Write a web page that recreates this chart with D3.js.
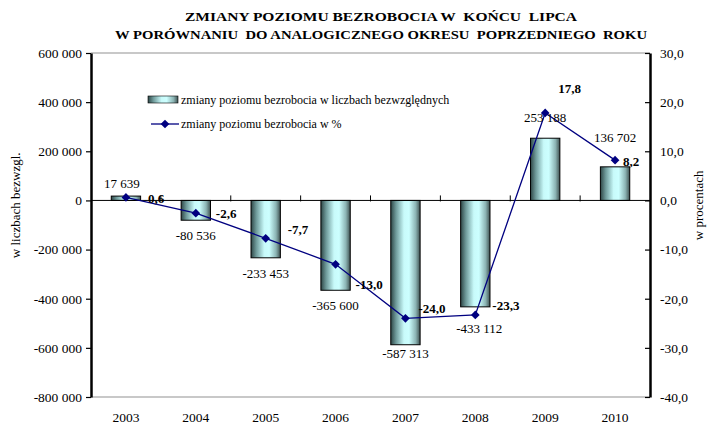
<!DOCTYPE html>
<html>
<head>
<meta charset="utf-8">
<script src="https://cdn.jsdelivr.net/npm/d3@7"></script>
<style>
  body { margin: 0; background: #fff; }
  svg { font-family: 'Liberation Serif', 'Times New Roman', serif; }
</style>
</head>
<body>
<div class="main"></div>
<script>
const width = 712;
const height = 426;
const margin = ({top: 53, right: 62, bottom: 29, left: 91});

// dane
const years = ['2003', '2004', '2005', '2006', '2007', '2008', '2009', '2010'];
const absChange = [17639, -80536, -233453, -365600, -587313, -433112, 253188, 136702];
const pctChange = [0.6, -2.6, -7.7, -13.0, -24.0, -23.3, 17.8, 8.2];
const leftTicks = [600000, 400000, 200000, 0, -200000, -400000, -600000, -800000];
const rightTicks = [30, 20, 10, 0, -10, -20, -30, -40];

const titleLines = ['ZMIANY POZIOMU BEZROBOCIA W  KOŃCU  LIPCA',
  'W PORÓWNANIU  DO ANALOGICZNEGO OKRESU  POPRZEDNIEGO  ROKU'];
const seriesNames = ['zmiany poziomu bezrobocia w liczbach bezwzględnych',
  'zmiany poziomu bezrobocia w %'];

// przesunięcia etykiet (ręcznie ustawione jak w oryginale)
const barLabelShift = [[-4, 13], [0, 15], [0, 16], [0, 15], [0, 9], [4, 22], [0, 21], [0, 29]];
const pctLabelShift = [[22, 1], [20, 0], [22, -9], [20, 20], [13, -10], [17, -9], [13, -25], [8, 1]];

const pl = d3.formatLocale({decimal: ',', thousands: ' ', grouping: [3], currency: ['', ''], minus: '-'});
const fmtAbs = pl.format(',d');
const fmtPct = pl.format('.1f');

const svg = d3.select('.main')
  .append('svg')
  .attr('width', width)
  .attr('height', height);

const x = d3.scaleBand()
  .domain(years)
  .range([margin.left, width - margin.right])
  .padding(0);

const yL = d3.scaleLinear()
  .domain([-800000, 600000])
  .range([height - margin.bottom, margin.top]);

const yR = d3.scaleLinear()
  .domain([-40, 30])
  .range([height - margin.bottom, margin.top]);

const barW = x.bandwidth() * 0.42;
const cx = d => x(d) + x.bandwidth() / 2;

// gradient słupków
const defs = svg.append('defs');
const grad = defs.append('linearGradient')
  .attr('id', 'barGrad')
  .attr('x1', '0%').attr('x2', '100%').attr('y1', '0%').attr('y2', '0%');
[[0, '#2e4646'], [0.18, '#6f9a9a'], [0.45, '#c8fafa'], [0.62, '#ccffff'], [0.85, '#8cb4b4'], [1, '#3f5252']]
  .forEach(s => grad.append('stop').attr('offset', s[0]).attr('stop-color', s[1]));

// tytuł
svg.append('g')
  .attr('font-weight', 'bold')
  .attr('font-size', 13)
  .attr('text-anchor', 'middle')
  .selectAll('text')
  .data(titleLines)
  .enter()
  .append('text')
  .attr('x', 381)
  .attr('y', (d, i) => 21 + i * 18)
  .attr('textLength', (d, i) => i === 0 ? 392 : 532)
  .attr('lengthAdjust', 'spacingAndGlyphs')
  .style('white-space', 'pre')
  .text(d => d);

// górna i dolna linia obszaru
svg.append('g')
  .selectAll('line')
  .data([margin.top, height - margin.bottom])
  .enter()
  .append('line')
  .attr('x1', margin.left).attr('x2', width - margin.right)
  .attr('y1', d => d).attr('y2', d => d)
  .attr('stroke', '#c8c8c8')
  .attr('stroke-width', 2);

// słupki
svg.append('g')
  .selectAll('rect')
  .data(years)
  .enter()
  .append('rect')
  .attr('x', d => cx(d) - barW / 2)
  .attr('width', barW)
  .attr('y', (d, i) => yL(Math.max(0, absChange[i])))
  .attr('height', (d, i) => Math.abs(yL(absChange[i]) - yL(0)))
  .attr('fill', 'url(#barGrad)')
  .attr('stroke', '#000')
  .attr('stroke-width', 1);

// linia zera + znaczniki kategorii
const y0 = yL(0);
svg.append('line')
  .attr('x1', margin.left).attr('x2', width - margin.right)
  .attr('y1', y0).attr('y2', y0)
  .attr('stroke', '#000');
svg.append('g')
  .selectAll('line')
  .data(years.slice(1))
  .enter()
  .append('line')
  .attr('x1', d => x(d)).attr('x2', d => x(d))
  .attr('y1', y0 - 5).attr('y2', y0 + 1)
  .attr('stroke', '#000');

// osie
const axL = svg.append('g')
  .attr('transform', `translate(${margin.left},0)`)
  .call(d3.axisLeft(yL).tickValues(leftTicks).tickFormat(fmtAbs).tickSize(5).tickSizeOuter(0).tickPadding(4));
const axR = svg.append('g')
  .attr('transform', `translate(${width - margin.right},0)`)
  .call(d3.axisRight(yR).tickValues(rightTicks).tickFormat(fmtPct).tickSize(-5).tickSizeOuter(0).tickPadding(10));
[axL, axR].forEach(g => {
  g.select('.domain').attr('stroke-width', 2.5);
  g.selectAll('.tick line').attr('stroke-width', 1.2);
  g.selectAll('text')
    .attr('font-family', "'Liberation Serif', serif")
    .attr('font-size', 13.5)
    .attr('fill', '#000');
});

// etykiety lat
svg.append('g')
  .attr('font-size', 13.5)
  .attr('text-anchor', 'middle')
  .selectAll('text')
  .data(years)
  .enter()
  .append('text')
  .attr('x', d => cx(d))
  .attr('y', height - margin.bottom + 25)
  .text(d => d);

// tytuły osi
svg.append('text')
  .attr('transform', `translate(20,${yL(-20000)}) rotate(-90)`)
  .attr('text-anchor', 'middle')
  .attr('font-size', 13)
  .text('w liczbach bezwzgl.');
svg.append('text')
  .attr('transform', `translate(703,${yR(-1)}) rotate(-90)`)
  .attr('text-anchor', 'middle')
  .attr('font-size', 13)
  .text('w procentach');

// linia procentowa
const line = d3.line()
  .x((d, i) => cx(years[i]))
  .y(d => yR(d));
svg.append('path')
  .datum(pctChange)
  .attr('d', line)
  .attr('fill', 'none')
  .attr('stroke', '#000080')
  .attr('stroke-width', 1.3);

const diamond = d3.symbol().type(d3.symbolSquare).size(38);
svg.append('g')
  .selectAll('path')
  .data(pctChange)
  .enter()
  .append('path')
  .attr('d', diamond)
  .attr('transform', (d, i) => `translate(${cx(years[i])},${yR(d)}) rotate(45)`)
  .attr('fill', '#000080');

// etykiety słupków
svg.append('g')
  .attr('font-size', 13)
  .attr('text-anchor', 'middle')
  .selectAll('text')
  .data(absChange)
  .enter()
  .append('text')
  .attr('x', (d, i) => cx(years[i]) + barLabelShift[i][0])
  .attr('y', (d, i) => yL(d) + (d >= 0 ? -barLabelShift[i][1] : barLabelShift[i][1]))
  .attr('dy', '0.35em')
  .text(d => fmtAbs(d));

// etykiety procentów
svg.append('g')
  .attr('font-size', 13)
  .attr('font-weight', 'bold')
  .selectAll('text')
  .data(pctChange)
  .enter()
  .append('text')
  .attr('x', (d, i) => cx(years[i]) + pctLabelShift[i][0])
  .attr('y', (d, i) => yR(d) + pctLabelShift[i][1])
  .attr('dy', '0.35em')
  .text(d => fmtPct(d));

// legenda
const leg = svg.append('g').attr('font-size', 12);
leg.append('rect')
  .attr('x', 148).attr('y', 96)
  .attr('width', 30).attr('height', 7)
  .attr('fill', 'url(#barGrad)')
  .attr('stroke', '#000')
  .attr('stroke-width', 0.6);
leg.append('line')
  .attr('x1', 151).attr('x2', 179)
  .attr('y1', 124).attr('y2', 124)
  .attr('stroke', '#000080')
  .attr('stroke-width', 1.3);
leg.append('path')
  .attr('d', diamond)
  .attr('transform', 'translate(165,124) rotate(45)')
  .attr('fill', '#000080');
leg.selectAll('text.lab')
  .data(seriesNames)
  .enter()
  .append('text')
  .attr('class', 'lab')
  .attr('x', 181)
  .attr('y', (d, i) => 99.5 + i * 24.5)
  .attr('dy', '0.35em')
  .text(d => d);
</script>
</body>
</html>
